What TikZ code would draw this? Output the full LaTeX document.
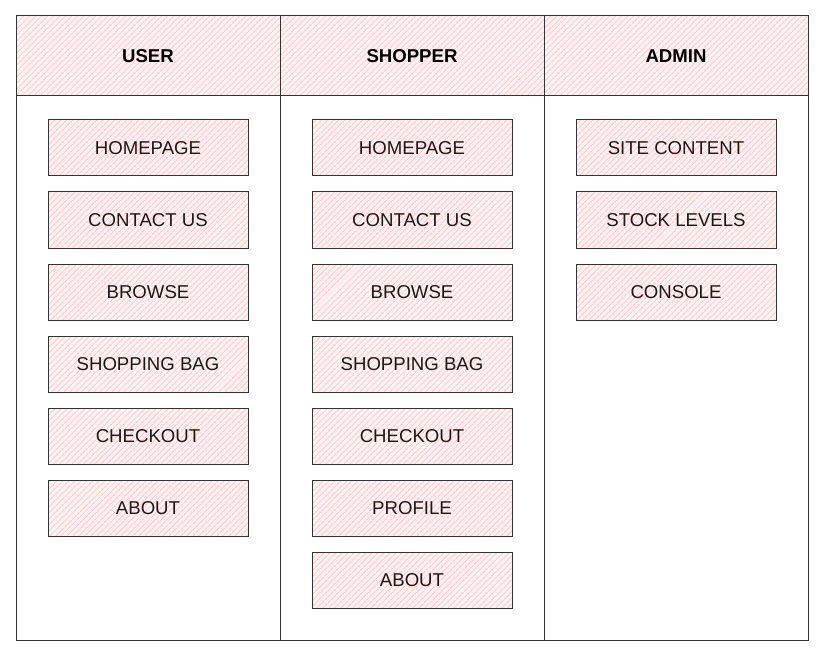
\documentclass[tikz,border=0pt]{standalone}
\usepackage{fontspec}
\setmainfont{Liberation Sans}
\usepackage{tikz}
\usetikzlibrary{patterns.meta}

\definecolor{edge}{HTML}{333333}
\definecolor{hatchpink}{HTML}{FFC6C6}
\definecolor{softpink}{HTML}{FFF1F1}
\tikzset{
    hatch/.style={preaction={fill=softpink}, pattern={Lines[angle=45,distance=4pt,line width=.9pt]}, pattern color=hatchpink},
    head/.style={draw=edge, line width=1pt, hatch, minimum width=264pt, minimum height=80pt, inner sep=0pt, font=\fontsize{18.6}{20}\selectfont\bfseries},
    item/.style={draw=edge, line width=1pt, hatch, minimum width=200pt, minimum height=56pt, inner sep=0pt, font=\fontsize{18.6}{20}\selectfont, text=black!90}
}

\begin{document}
\begin{tikzpicture}[x=1pt,y=-1pt]
        \useasboundingbox (0,0) rectangle (825,658);
        % column bodies
        \draw[edge, line width=1pt] (16,96) rectangle (280,640);
        \draw[edge, line width=1pt] (280,96) rectangle (544,640);
        \draw[edge, line width=1pt] (544,96) rectangle (808,640);
        % headers
        \node[head] (user) at (148,56) {USER};
        \node[head] (shopper) at (412,56) {SHOPPER};
        \node[head] (admin) at (676,56) {ADMIN};
        % user pages
        \node[item] (uhome) at (148,148) {HOMEPAGE};
        \node[item] (ucontact) at (148,220) {CONTACT US};
        \node[item] (ubrowse) at (148,292) {BROWSE};
        \node[item] (ubag) at (148,364) {SHOPPING BAG};
        \node[item] (ucheckout) at (148,436) {CHECKOUT};
        \node[item] (uabout) at (148,508) {ABOUT};
        % shopper pages
        \node[item] (shome) at (412,148) {HOMEPAGE};
        \node[item] (scontact) at (412,220) {CONTACT US};
        \node[item] (sbrowse) at (412,292) {BROWSE};
        \node[item] (sbag) at (412,364) {SHOPPING BAG};
        \node[item] (scheckout) at (412,436) {CHECKOUT};
        \node[item] (sprofile) at (412,508) {PROFILE};
        \node[item] (sabout) at (412,580) {ABOUT};
        % admin pages
        \node[item] (acontent) at (676,148) {SITE CONTENT};
        \node[item] (astock) at (676,220) {STOCK LEVELS};
        \node[item] (aconsole) at (676,292) {CONSOLE};
    \end{tikzpicture}
\end{document}
